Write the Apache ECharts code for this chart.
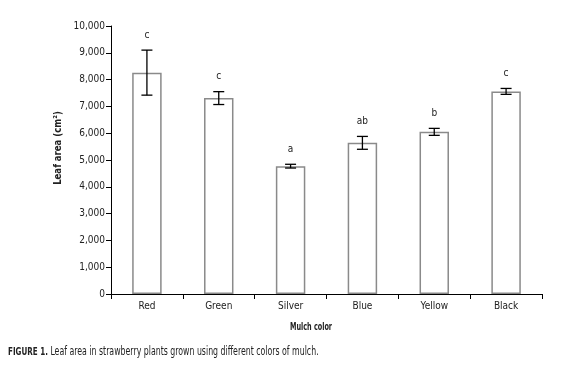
<!DOCTYPE html>
<html>
<head>
<meta charset="utf-8">
<script src="https://cdn.jsdelivr.net/npm/echarts@6/dist/echarts.min.js"></script>
<style>
html, body { margin: 0; padding: 0; background: #fff; }
#main { width: 574px; height: 368px; }
</style>
</head>
<body>
<div id="main"></div>
<script>
const categories = ["Red", "Green", "Silver", "Blue", "Yellow", "Black"];
const leafArea = [8260, 7310, 4770, 5640, 6050, 7560];
const stdErr = [840, 240, 70, 240, 130, 110];
const letters = ["c", "c", "a", "ab", "b", "c"];
const yTicks = [0, 1000, 2000, 3000, 4000, 5000, 6000, 7000, 8000, 9000, 10000];

const font = "'DejaVu Sans Condensed', 'Liberation Sans Narrow', sans-serif";

const myChart = echarts.init(document.getElementById("main"));

const errData = categories.map((c, i) => [i, leafArea[i] - stdErr[i], leafArea[i] + stdErr[i]]);

let option = {
    animation: false,
    backgroundColor: "#fff",
    textStyle: { fontFamily: font },
    grid: {
        left: 111,
        right: 32,
        top: 26,
        bottom: 74
    },
    graphic: [
        {
            // y axis title
            type: "text",
            x: 58,
            y: 148,
            rotation: Math.PI / 2,
            scaleX: 0.95,
            style: {
                text: "Leaf area (cm²)",
                font: "bold 10px " + font,
                fill: "#222",
                textAlign: "center",
                textVerticalAlign: "middle"
            }
        },
        {
            // x axis title
            type: "text",
            x: 311,
            y: 327,
            scaleX: 0.72,
            style: {
                text: "Mulch color",
                font: "bold 10px " + font,
                fill: "#222",
                textAlign: "center",
                textVerticalAlign: "middle"
            }
        },
        {
            // caption
            type: "text",
            x: 8,
            y: 352,
            scaleX: 0.725,
            style: {
                text: "{b|FIGURE 1.} Leaf area in strawberry plants grown using different colors of mulch.",
                font: "12px " + font,
                fill: "#222",
                textVerticalAlign: "middle",
                rich: {
                    b: { fontFamily: font, fontSize: 11, fontWeight: "bold", fill: "#222" }
                }
            }
        }
    ],
    xAxis: {
        type: "category",
        data: categories,
        axisLine: { lineStyle: { color: "#000", width: 1 } },
        axisTick: { show: true, length: 5, lineStyle: { color: "#000" } },
        axisLabel: { fontFamily: font, fontSize: 10, color: "#222", margin: 7 }
    },
    yAxis: {
        type: "value",
        min: 0,
        max: 10000,
        interval: 1000,
        splitLine: { show: false },
        axisLine: { show: true, lineStyle: { color: "#000", width: 1 } },
        axisTick: { show: true, length: 5, lineStyle: { color: "#000" } },
        axisLabel: {
            fontFamily: font,
            fontSize: 10,
            color: "#222",
            margin: 6,
            formatter: (v) => yTicks.includes(v) ? v.toLocaleString("en-US") : ""
        }
    },
    series: [
        {
            type: "bar",
            data: leafArea,
            barWidth: "41%",
            itemStyle: { color: "#fff", borderColor: "#8a8a8a", borderWidth: 1.5 }
        },
        {
            type: "custom",
            data: errData,
            z: 10,
            renderItem: (params, api) => {
                const x = api.value(0);
                const lo = api.coord([x, api.value(1)]);
                const hi = api.coord([x, api.value(2)]);
                const w = 5.5;
                const st = { stroke: "#000", lineWidth: 1.3 };
                return {
                    type: "group",
                    children: [
                        { type: "line", shape: { x1: hi[0], y1: hi[1], x2: lo[0], y2: lo[1] }, style: st },
                        { type: "line", shape: { x1: hi[0] - w, y1: hi[1], x2: hi[0] + w, y2: hi[1] }, style: st },
                        { type: "line", shape: { x1: lo[0] - w, y1: lo[1], x2: lo[0] + w, y2: lo[1] }, style: st },
                        {
                            type: "text",
                            style: {
                                x: hi[0],
                                y: hi[1] - 15,
                                text: letters[params.dataIndex],
                                fill: "#222",
                                font: "10px " + font,
                                textAlign: "center",
                                textVerticalAlign: "middle"
                            }
                        }
                    ]
                };
            }
        }
    ]
};
myChart.setOption(option);
</script>
</body>
</html>
